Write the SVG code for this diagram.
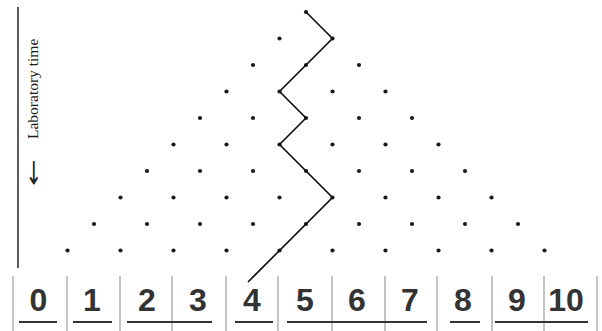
<svg xmlns="http://www.w3.org/2000/svg" width="602" height="331" viewBox="0 0 602 331">
<style>
.dot{fill:#1a1a1a}
.num{font-family:"Liberation Sans",Arial,sans-serif;font-weight:bold;font-size:32px;fill:#333;text-anchor:middle}
.sep{stroke:#c4c4c4;stroke-width:2}
.ul{stroke:#333;stroke-width:2}
.lab{font-family:"Liberation Serif","Times New Roman",serif;font-size:15.5px;fill:#1a1a1a}
.arr{font-family:"DejaVu Sans",sans-serif;font-size:20px;fill:#222}
</style>
<rect width="602" height="331" fill="#fff"/>
<line x1="18" y1="7" x2="18" y2="268" stroke="#333" stroke-width="1.6"/>
<g id="label">
<text class="lab" transform="translate(38,139) rotate(-90)">Laboratory time</text>
<text class="arr" transform="translate(39.5,186) rotate(-90) scale(1.6,1)">←</text>
</g>
<g id="nodes">
<g id="n0_0"><circle class="dot" cx="306" cy="12" r="2.1"/></g>
<g id="n1_0"><circle class="dot" cx="279.5" cy="38.5" r="2.1"/></g>
<g id="n1_1"><circle class="dot" cx="332.5" cy="38.5" r="2.1"/></g>
<g id="n2_0"><circle class="dot" cx="253" cy="65" r="2.1"/></g>
<g id="n2_1"><circle class="dot" cx="306" cy="65" r="2.1"/></g>
<g id="n2_2"><circle class="dot" cx="359" cy="65" r="2.1"/></g>
<g id="n3_0"><circle class="dot" cx="226.5" cy="91.5" r="2.1"/></g>
<g id="n3_1"><circle class="dot" cx="279.5" cy="91.5" r="2.1"/></g>
<g id="n3_2"><circle class="dot" cx="332.5" cy="91.5" r="2.1"/></g>
<g id="n3_3"><circle class="dot" cx="385.5" cy="91.5" r="2.1"/></g>
<g id="n4_0"><circle class="dot" cx="200" cy="118" r="2.1"/></g>
<g id="n4_1"><circle class="dot" cx="253" cy="118" r="2.1"/></g>
<g id="n4_2"><circle class="dot" cx="306" cy="118" r="2.1"/></g>
<g id="n4_3"><circle class="dot" cx="359" cy="118" r="2.1"/></g>
<g id="n4_4"><circle class="dot" cx="412" cy="118" r="2.1"/></g>
<g id="n5_0"><circle class="dot" cx="173.5" cy="144.5" r="2.1"/></g>
<g id="n5_1"><circle class="dot" cx="226.5" cy="144.5" r="2.1"/></g>
<g id="n5_2"><circle class="dot" cx="279.5" cy="144.5" r="2.1"/></g>
<g id="n5_3"><circle class="dot" cx="332.5" cy="144.5" r="2.1"/></g>
<g id="n5_4"><circle class="dot" cx="385.5" cy="144.5" r="2.1"/></g>
<g id="n5_5"><circle class="dot" cx="438.5" cy="144.5" r="2.1"/></g>
<g id="n6_0"><circle class="dot" cx="147" cy="171" r="2.1"/></g>
<g id="n6_1"><circle class="dot" cx="200" cy="171" r="2.1"/></g>
<g id="n6_2"><circle class="dot" cx="253" cy="171" r="2.1"/></g>
<g id="n6_3"><circle class="dot" cx="306" cy="171" r="2.1"/></g>
<g id="n6_4"><circle class="dot" cx="359" cy="171" r="2.1"/></g>
<g id="n6_5"><circle class="dot" cx="412" cy="171" r="2.1"/></g>
<g id="n6_6"><circle class="dot" cx="465" cy="171" r="2.1"/></g>
<g id="n7_0"><circle class="dot" cx="120.5" cy="197.5" r="2.1"/></g>
<g id="n7_1"><circle class="dot" cx="173.5" cy="197.5" r="2.1"/></g>
<g id="n7_2"><circle class="dot" cx="226.5" cy="197.5" r="2.1"/></g>
<g id="n7_3"><circle class="dot" cx="279.5" cy="197.5" r="2.1"/></g>
<g id="n7_4"><circle class="dot" cx="332.5" cy="197.5" r="2.1"/></g>
<g id="n7_5"><circle class="dot" cx="385.5" cy="197.5" r="2.1"/></g>
<g id="n7_6"><circle class="dot" cx="438.5" cy="197.5" r="2.1"/></g>
<g id="n7_7"><circle class="dot" cx="491.5" cy="197.5" r="2.1"/></g>
<g id="n8_0"><circle class="dot" cx="94" cy="224" r="2.1"/></g>
<g id="n8_1"><circle class="dot" cx="147" cy="224" r="2.1"/></g>
<g id="n8_2"><circle class="dot" cx="200" cy="224" r="2.1"/></g>
<g id="n8_3"><circle class="dot" cx="253" cy="224" r="2.1"/></g>
<g id="n8_4"><circle class="dot" cx="306" cy="224" r="2.1"/></g>
<g id="n8_5"><circle class="dot" cx="359" cy="224" r="2.1"/></g>
<g id="n8_6"><circle class="dot" cx="412" cy="224" r="2.1"/></g>
<g id="n8_7"><circle class="dot" cx="465" cy="224" r="2.1"/></g>
<g id="n8_8"><circle class="dot" cx="518" cy="224" r="2.1"/></g>
<g id="n9_0"><circle class="dot" cx="67.5" cy="250.5" r="2.1"/></g>
<g id="n9_1"><circle class="dot" cx="120.5" cy="250.5" r="2.1"/></g>
<g id="n9_2"><circle class="dot" cx="173.5" cy="250.5" r="2.1"/></g>
<g id="n9_3"><circle class="dot" cx="226.5" cy="250.5" r="2.1"/></g>
<g id="n9_4"><circle class="dot" cx="279.5" cy="250.5" r="2.1"/></g>
<g id="n9_5"><circle class="dot" cx="332.5" cy="250.5" r="2.1"/></g>
<g id="n9_6"><circle class="dot" cx="385.5" cy="250.5" r="2.1"/></g>
<g id="n9_7"><circle class="dot" cx="438.5" cy="250.5" r="2.1"/></g>
<g id="n9_8"><circle class="dot" cx="491.5" cy="250.5" r="2.1"/></g>
<g id="n9_9"><circle class="dot" cx="544.5" cy="250.5" r="2.1"/></g>
</g>
<g id="connectors">
<polyline points="306,12 332.5,38.5 279.5,91.5 306,118 279.5,144.5 332.5,197.5 248,282" fill="none" stroke="#111" stroke-width="1.6" stroke-linejoin="miter"/>
</g>
<g id="scale">
<line class="sep" x1="13" y1="276" x2="13" y2="331"/>
<line class="sep" x1="67" y1="276" x2="67" y2="331"/>
<line class="sep" x1="120" y1="276" x2="120" y2="331"/>
<line class="sep" x1="172" y1="276" x2="172" y2="331"/>
<line class="sep" x1="226" y1="276" x2="226" y2="331"/>
<line class="sep" x1="278" y1="276" x2="278" y2="331"/>
<line class="sep" x1="332" y1="276" x2="332" y2="331"/>
<line class="sep" x1="385" y1="276" x2="385" y2="331"/>
<line class="sep" x1="437" y1="276" x2="437" y2="331"/>
<line class="sep" x1="492" y1="276" x2="492" y2="331"/>
<line class="sep" x1="544" y1="276" x2="544" y2="331"/>
<line class="sep" x1="597" y1="276" x2="597" y2="331"/>
<line class="ul" x1="19" y1="322" x2="57" y2="322"/>
<line class="ul" x1="73" y1="322" x2="112" y2="322"/>
<line class="ul" x1="127" y1="322" x2="212" y2="322"/>
<line class="ul" x1="235" y1="322" x2="273" y2="322"/>
<line class="ul" x1="287" y1="322" x2="427" y2="322"/>
<line class="ul" x1="450" y1="322" x2="480" y2="322"/>
<line class="ul" x1="495" y1="322" x2="588" y2="322"/>
<text class="num" x="38.5" y="311">0</text>
<text class="num" x="92" y="311">1</text>
<text class="num" x="147" y="311">2</text>
<text class="num" x="198" y="311">3</text>
<text class="num" x="252" y="311">4</text>
<text class="num" x="305" y="311">5</text>
<text class="num" x="357" y="311">6</text>
<text class="num" x="410" y="311">7</text>
<text class="num" x="463" y="311">8</text>
<text class="num" x="517" y="311">9</text>
<text class="num" x="566" y="311">10</text>
</g>
</svg>
